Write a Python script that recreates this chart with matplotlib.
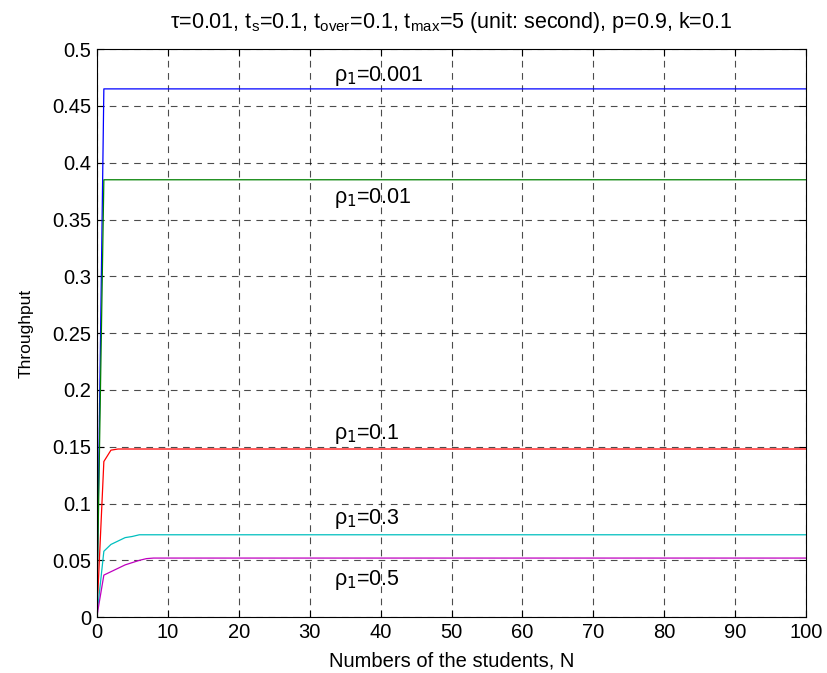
import numpy as np
import matplotlib
matplotlib.use('Agg')
import matplotlib.pyplot as plt

plt.rcParams['font.family'] = ['Liberation Sans', 'DejaVu Sans']
plt.rcParams['mathtext.fontset'] = 'custom'
plt.rcParams['mathtext.rm'] = 'Liberation Sans'
plt.rcParams['mathtext.it'] = 'Liberation Sans'

N = np.arange(0, 101)

rho_labels = ['0.001', '0.01', '0.1', '0.3', '0.5']
head_001 = [0, 0.465]
head_01 = [0, 0.385]
head_1 = [0, 0.137, 0.147, 0.148]
head_3 = [0, 0.058, 0.064, 0.067, 0.070, 0.071, 0.0725]
head_5 = [0, 0.037, 0.040, 0.043, 0.046, 0.048, 0.050, 0.0515, 0.052]
heads = [head_001, head_01, head_1, head_3, head_5]
colors = ['#0000FF', '#008000', '#FF0000', '#00BFBF', '#BF00BF']
label_xy = [(33.5, 0.476), (33.5, 0.369), (33.5, 0.161), (33.5, 0.086), (33.5, 0.033)]

def full_series(head):
    vals = np.full(len(N), head[-1], dtype=float)
    vals[:len(head)] = head
    return vals

fig = plt.figure(figsize=(8.27, 6.73), dpi=100)
ax = fig.add_axes([0.117, 0.083, 0.858, 0.844])

for head, c in zip(heads, colors):
    ax.plot(N, full_series(head), color=c, lw=0.9)

for lab, (x, y) in zip(rho_labels, label_xy):
    ax.text(x, y, r'$\rho_{\mathsf{1}}$=' + lab, fontsize=15.5, va='center', ha='left')

ax.set_xlim(0, 100)
ax.set_ylim(0, 0.5)
ax.set_xticks(np.arange(0, 101, 10))
ax.set_yticks(np.arange(0, 0.51, 0.05))
ax.set_yticklabels(['0', '0.05', '0.1', '0.15', '0.2', '0.25', '0.3', '0.35', '0.4', '0.45', '0.5'])
ax.tick_params(direction='in', top=True, right=True, labelsize=14.5, length=5, pad=4)
ax.grid(True, color='black', linestyle=(0, (6, 5)), lw=0.8, alpha=0.7)
for s in ax.spines.values():
    s.set_linewidth(0.8)

ax.set_xlabel('Numbers of the students, N', fontsize=14.5, labelpad=7)
ax.set_ylabel('Throughput', fontsize=12.5, labelpad=13)
ax.set_title(r'$\tau$=0.01, t$_{\rm s}$=0.1, t$_{\rm over}$=0.1, t$_{\rm max}$=5 (unit: second), p=0.9, k=0.1',
             fontsize=15.5, pad=15)

fig.savefig('out.png', dpi=100, facecolor='white')
